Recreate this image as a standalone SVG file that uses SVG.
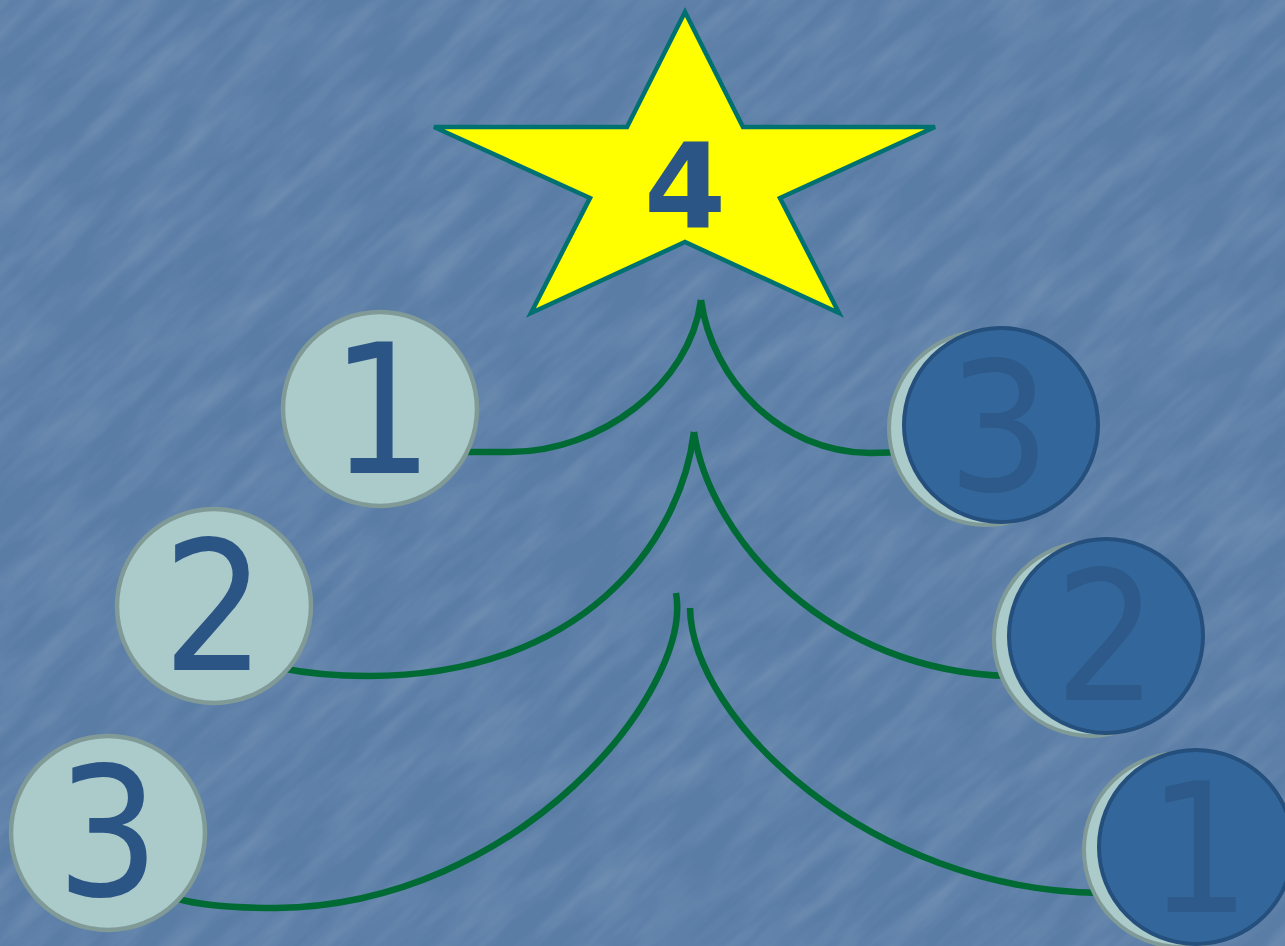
<svg xmlns="http://www.w3.org/2000/svg" width="1285" height="946" viewBox="0 0 1285 946">
<defs>
<filter id="tex" x="0" y="0" width="100%" height="100%">
<feTurbulence type="fractalNoise" baseFrequency="0.01 0.05" numOctaves="3" seed="7" result="n"/>
<feColorMatrix in="n" type="matrix" values="0 0 0 0 1  0 0 0 0 1  0 0 0 0 1  0 0 0 0.3 -0.1"/>
</filter>
<style>
.bg{fill:#5a7da6}
.conn{fill:none;stroke:#006a35;stroke-width:6.5;stroke-linecap:butt}
.lc{fill:#abcaca;stroke:#809a98;stroke-width:4.5}
.rc{fill:#33679c;stroke:#254f7c;stroke-width:4}
.sh{fill:#abcaca;stroke:#809a98;stroke-width:4}
.lt{font-family:"DejaVu Sans Condensed","DejaVu Sans",Verdana,sans-serif;font-size:180px;fill:#2b5584;text-anchor:middle}
.rt{font-family:"DejaVu Sans Condensed","DejaVu Sans",Verdana,sans-serif;font-size:180px;fill:#2d5a8a;text-anchor:middle}
.star{fill:#ffff00;stroke:#007070;stroke-width:4.5;stroke-linejoin:miter}
.st{font-family:"DejaVu Sans",Verdana,sans-serif;font-weight:bold;font-size:118px;fill:#2b5584;text-anchor:middle}
</style>
</defs>
<rect class="bg" x="0" y="0" width="1285" height="946"/>
<g transform="rotate(-42 642 473)"><rect x="-500" y="-500" width="2300" height="1950" filter="url(#tex)" opacity="0.7"/></g>

<g id="connectors">
<path class="conn" d="M465 452 L510 452 C600 452 690 385 701 300"/>
<path class="conn" d="M701 300 C712 380 780 452 870 453 L910 452"/>
<path class="conn" d="M280 668 C300 672 330 676 368 676 C580 676 680 545 694 432"/>
<path class="conn" d="M694 432 C710 540 830 672 1010 676 L1020 676"/>
<path class="conn" d="M676 593 C693 690 520 905 276 908 C230 908 200 905 178 899"/>
<path class="conn" d="M690 608 C692 720 870 890 1100 893 L1110 893"/>
</g>

<g id="star">
<polygon class="star" points="685,12 627,127 434,127 590,198 531,313 685,242 839,313 780,198 935,127 743,127"/>
<text class="st" x="685" y="228">4</text>
</g>

<g id="left1"><circle class="lc" cx="380" cy="409" r="97"/><text class="lt" x="382" y="473">1</text></g>
<g id="left2"><circle class="lc" cx="214" cy="606" r="97"/><text class="lt" x="214" y="670">2</text></g>
<g id="left3"><circle class="lc" cx="108" cy="833" r="97"/><text class="lt" x="108" y="895">3</text></g>

<g id="right3"><circle class="sh" cx="986" cy="428" r="97"/><circle class="rc" cx="1001" cy="425" r="97"/><text class="rt" x="999" y="490">3</text></g>
<g id="right2"><circle class="sh" cx="1091" cy="639" r="97"/><circle class="rc" cx="1106" cy="636" r="97"/><text class="rt" x="1106" y="700">2</text></g>
<g id="right1"><circle class="sh" cx="1181" cy="850" r="97"/><circle class="rc" cx="1196" cy="847" r="97"/><text class="rt" x="1199" y="912">1</text></g>
</svg>
